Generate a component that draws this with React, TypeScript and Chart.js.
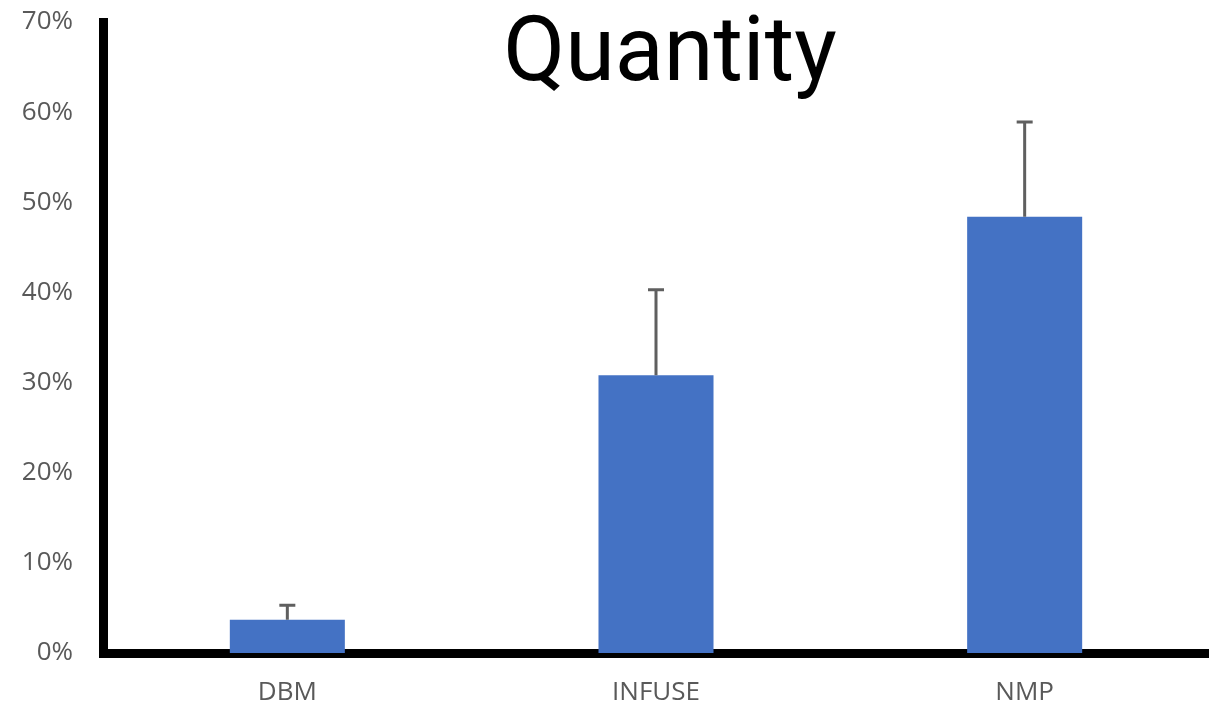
import React, { useEffect, useRef } from "react";
import { Chart, registerables } from "chart.js";

Chart.register(...registerables);

const categories: string[] = ["DBM", "INFUSE", "NMP"];
const values: number[] = [3.7, 30.8, 48.4];
const errors: number[] = [1.6, 9.5, 10.5];
const titleText = "Quantity";
const yMax = 70;
const yStep = 10;

const errorBarPlugin = {
  id: "errorBars",
  afterDatasetsDraw(chart: any) {
    const meta = chart.getDatasetMeta(0);
    const y = chart.scales.y;
    const ctx = chart.ctx;
    ctx.save();
    ctx.strokeStyle = "#5f5f5f";
    ctx.lineWidth = 3;
    meta.data.forEach((bar: any, i: number) => {
      const top = y.getPixelForValue(values[i] + errors[i]);
      const base = y.getPixelForValue(values[i]);
      ctx.beginPath();
      ctx.moveTo(bar.x, base);
      ctx.lineTo(bar.x, top);
      ctx.moveTo(bar.x - 8, top);
      ctx.lineTo(bar.x + 8, top);
      ctx.stroke();
    });
    ctx.restore();
  },
};

const titlePlugin = {
  id: "overlayTitle",
  afterDraw(chart: any) {
    const ctx = chart.ctx;
    const area = chart.chartArea;
    ctx.save();
    ctx.fillStyle = "#000000";
    ctx.font = "90px Roboto";
    ctx.textAlign = "center";
    ctx.textBaseline = "alphabetic";
    ctx.fillText(titleText, (area.left + area.right) / 2 + 14, area.top + 58);
    ctx.restore();
  },
};

export default function App() {
  const ref = useRef<HTMLCanvasElement | null>(null);
  useEffect(() => {
    document.body.style.margin = "0";
    if (!ref.current) return;
    const chart = new Chart(ref.current, {
      type: "bar",
      data: {
        labels: categories,
        datasets: [
          {
            data: values,
            backgroundColor: "#4472C4",
            barPercentage: 0.312,
            categoryPercentage: 1,
          },
        ],
      },
      options: {
        animation: false,
        responsive: false,
        maintainAspectRatio: false,
        layout: { padding: 0 },
        plugins: {
          legend: { display: false },
          title: { display: false },
          tooltip: { enabled: false },
        },
        scales: {
          x: {
            z: 1,
            grid: { display: false, drawTicks: false },
            border: { display: true, color: "#000000", width: 9 },
            ticks: {
              color: "#595959",
              font: { family: "Open Sans", size: 26 },
              padding: 24,
            },
            afterFit: (s: any) => {
              s.height = 52;
              s.paddingLeft = 0;
              s.paddingRight = 0;
            },
          },
          y: {
            min: 0,
            max: yMax,
            z: 1,
            grid: { display: false, drawTicks: false },
            border: { display: true, color: "#000000", width: 9 },
            ticks: {
              stepSize: yStep,
              color: "#595959",
              font: { family: "Open Sans", size: 26 },
              padding: 30,
              callback: (v: any) => v + "%",
            },
            afterFit: (s: any) => {
              s.width = 103;
              s.paddingTop = 22;
              s.paddingBottom = 0;
            },
          },
        },
      },
      plugins: [errorBarPlugin, titlePlugin],
    });
    return () => chart.destroy();
  }, []);
  return (
    <div style={{ position: "absolute", left: 0, top: 0, width: 1209, height: 705 }}>
      <canvas ref={ref} width={1209} height={705} style={{ width: 1209, height: 705 }} />
    </div>
  );
}
